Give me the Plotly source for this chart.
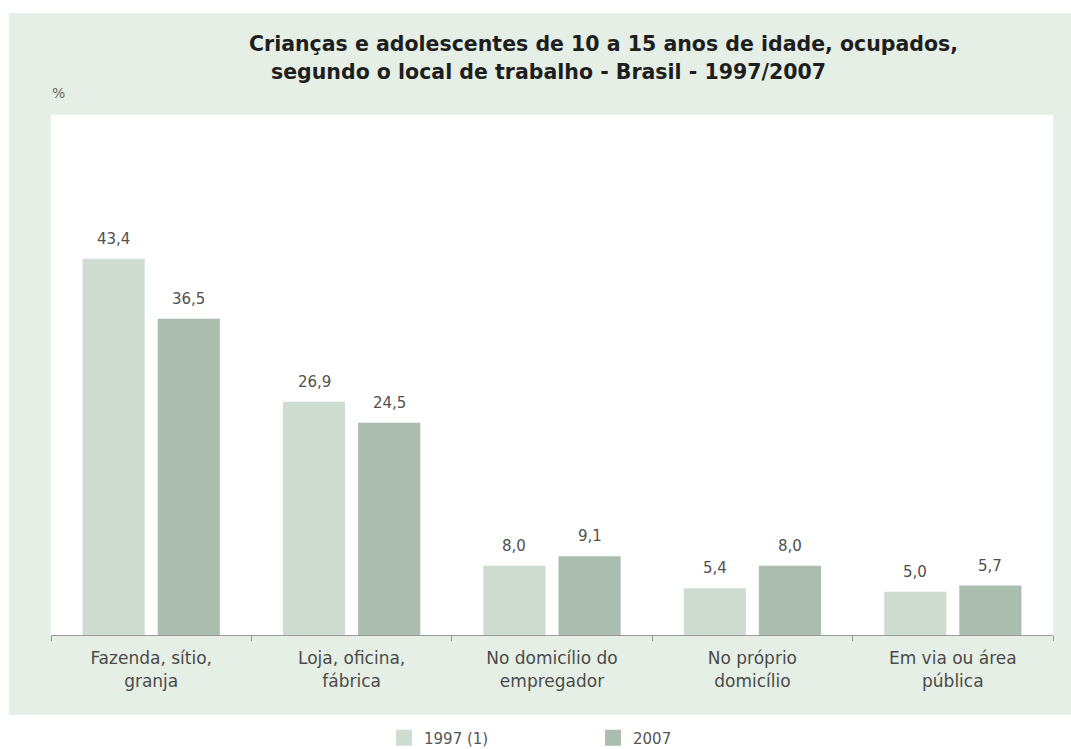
import plotly.graph_objects as go

categories = [
    "Fazenda, sítio,<br>granja",
    "Loja, oficina,<br>fábrica",
    "No domicílio do<br>empregador",
    "No próprio<br>domicílio",
    "Em via ou área<br>pública",
]
series_names = ["1997 (1)", "2007"]
values_1997 = [43.4, 26.9, 8.0, 5.4, 5.0]
values_2007 = [36.5, 24.5, 9.1, 8.0, 5.7]

colors = ["#CFDCD2", "#AABDAE"]
panel_color = "#E5EFE5"
font_family = "DejaVu Sans"

W, H = 1071, 749
L, R, T, B = 51, 18, 115, 114
pw, ph = W - L - R, H - T - B
bargap, bargroupgap = 0.25, 0.173

def px(x):
    return (x - L) / pw

def py(y):
    return (H - B - y) / ph

fig = go.Figure()
for name, vals, col in zip(series_names, [values_1997, values_2007], colors):
    fig.add_trace(go.Bar(
        x=categories, y=vals, name=name, marker_color=col, marker_line_width=0,
        showlegend=False, hoverinfo="x+y+name",
    ))
    # legend proxy (bigger square swatch)
    fig.add_trace(go.Scatter(
        x=[None], y=[None], mode="markers", name=name,
        marker=dict(symbol="square", size=16, color=col),
    ))

# value labels above bars (positioned on data coordinates)
slot = pw / len(categories) * (1 - bargap) / len(series_names)
label_annotations = []
for k, vals in enumerate([values_1997, values_2007]):
    shift = (k - (len(series_names) - 1) / 2) * slot
    for cat, v in zip(categories, vals):
        label_annotations.append(dict(
            x=cat, y=v, xref="x", yref="y", xshift=shift, yshift=9,
            text=f"{v:.1f}".replace(".", ","), showarrow=False,
            xanchor="center", yanchor="bottom",
            font=dict(family=font_family, size=15, color="#505050"),
        ))

fig.update_layout(
    width=W, height=H,
    margin=dict(l=L, r=R, t=T, b=B, autoexpand=False),
    paper_bgcolor="white",
    plot_bgcolor="rgba(0,0,0,0)",
    separators=",.",
    barmode="group",
    bargap=bargap,
    bargroupgap=bargroupgap,
    font=dict(family=font_family),
    shapes=[
        dict(type="rect", xref="paper", yref="paper", x0=px(9), x1=px(1075),
             y0=py(715), y1=py(13), fillcolor=panel_color, line_width=0, layer="below"),
        dict(type="rect", xref="paper", yref="paper", x0=0, x1=1, y0=0, y1=1,
             fillcolor="white", line_width=0, layer="below"),
    ],
    annotations=[
        dict(text="Crianças e adolescentes de 10 a 15 anos de idade, ocupados,",
             xref="paper", yref="paper", x=px(247), y=py(44), xanchor="left", yanchor="middle",
             showarrow=False, font=dict(family="DejaVu Sans", size=20.5, color="#1e1e1e", weight="bold")),
        dict(text="segundo o local de trabalho - Brasil - 1997/2007",
             xref="paper", yref="paper", x=px(269), y=py(72), xanchor="left", yanchor="middle",
             showarrow=False, font=dict(family="DejaVu Sans", size=20.5, color="#1e1e1e", weight="bold")),
        dict(text="%", xref="paper", yref="paper", x=px(50), y=py(93), xanchor="left", yanchor="middle",
             showarrow=False, font=dict(family=font_family, size=14, color="#666666")),
    ] + label_annotations,
    legend=dict(
        orientation="h", x=px(384), y=py(738), xanchor="left", yanchor="middle",
        font=dict(family=font_family, size=15, color="#555555"),
        bgcolor="rgba(0,0,0,0)", entrywidth=164, entrywidthmode="pixels",
    ),
)
fig.update_xaxes(
    showline=True, linecolor="#9a9a9a", linewidth=1,
    ticks="outside", tickson="boundaries", ticklen=5, tickcolor="#9a9a9a",
    tickfont=dict(family=font_family, size=17, color="#4a4a4a"),
    ticklabelstandoff=8,
    showgrid=False, zeroline=False,
)
fig.update_yaxes(range=[0, 60], visible=False, showgrid=False, zeroline=False)

post = (
    "document.body.style.margin='0';"
    "document.body.style.overflow='hidden';"
    "var gd=document.getElementById('{plot_id}');"
    "Plotly.relayout(gd,{width:%d,height:%d});" % (W, H)
)
fig.write_html("out.html", post_script=post, config={"displayModeBar": False})
